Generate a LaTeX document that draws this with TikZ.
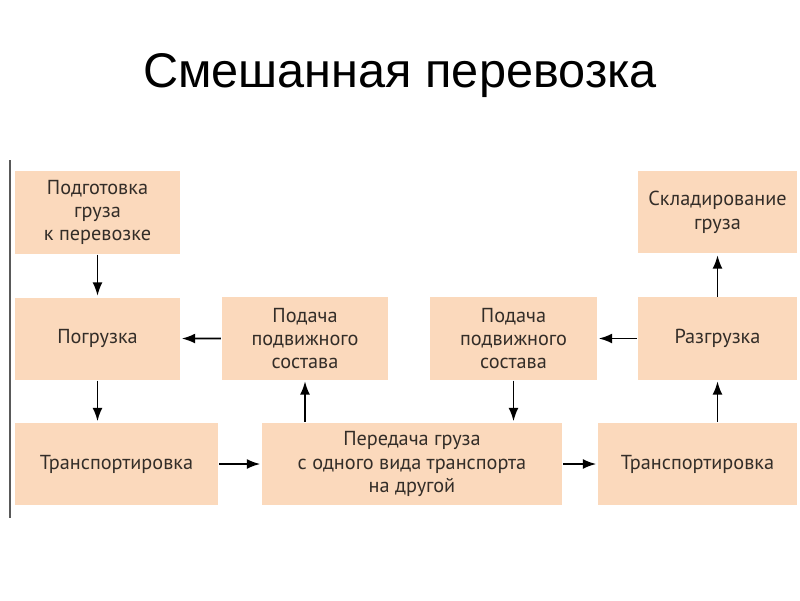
\documentclass[tikz,border=0pt]{standalone}
\usepackage{fontspec}
\setmainfont{PT Sans}
\newfontfamily\titlefont{Liberation Sans}
\usetikzlibrary{arrows.meta,positioning}
\definecolor{peach}{RGB}{251,217,188}
\definecolor{boxtext}{RGB}{51,45,40}
\tikzset{>/.tip={Latex[length=9.5pt,width=7pt]}}
\tikzset{stage/.style={fill=peach,inner sep=2pt,align=center,
    minimum height=2.05cm,font=\fontsize{14.4}{16.6}\selectfont,text=boxtext}}

\begin{document}
\begin{tikzpicture}[x=0.025cm,y=-0.025cm,node distance=3.15cm,on grid]
        \useasboundingbox (0,0) rectangle (800,600);
        \node(title) at (400,76){\titlefont\fontsize{34.6}{40}\selectfont Смешанная перевозка};
        \draw[line width=1.5pt,black!65] (10,160) -- (10,518);
        % left column
        \node(prep)[stage,minimum width=4.125cm] at (97.5,212.5){Подготовка\\груза\\к перевозке};
        \node(load)[stage,minimum width=4.125cm,below=of prep]{Погрузка};
        \node(transL)[stage,minimum width=5.075cm] at (116.5,464){Транспортировка};
        % middle
        \node(feedL)[stage,minimum width=4.15cm] at (305,338.5){Подача\\подвижного\\состава};
        \node(transfer)[stage,minimum width=7.5cm] at (412,464){Передача груза\\с одного вида транспорта\\на другой};
        \node(feedR)[stage,minimum width=4.175cm] at (513.5,338.5){Подача\\подвижного\\состава};
        % right column
        \node(unload)[stage,minimum width=3.975cm] at (717.5,338.5){Разгрузка};
        \node(store)[stage,minimum width=3.975cm,above=of unload]{Складирование\\груза};
        \node(transR)[stage,minimum width=4.975cm] at (697.5,464){Транспортировка};
        \path[every edge/.append style={->,line width=1.3pt,shorten <=0.5pt,shorten >=1pt}]
        (prep) edge (load)
        (feedL) edge (load)
        (load) edge (load|-transL.north)
        (transL) edge (transfer)
        (feedL|-transfer.north) edge (feedL)
        (feedR) edge (feedR|-transfer.north)
        (transfer) edge (transR)
        (unload|-transR.north) edge (unload)
        (unload) edge (feedR)
        (unload) edge (store);
      \end{tikzpicture}
\end{document}
